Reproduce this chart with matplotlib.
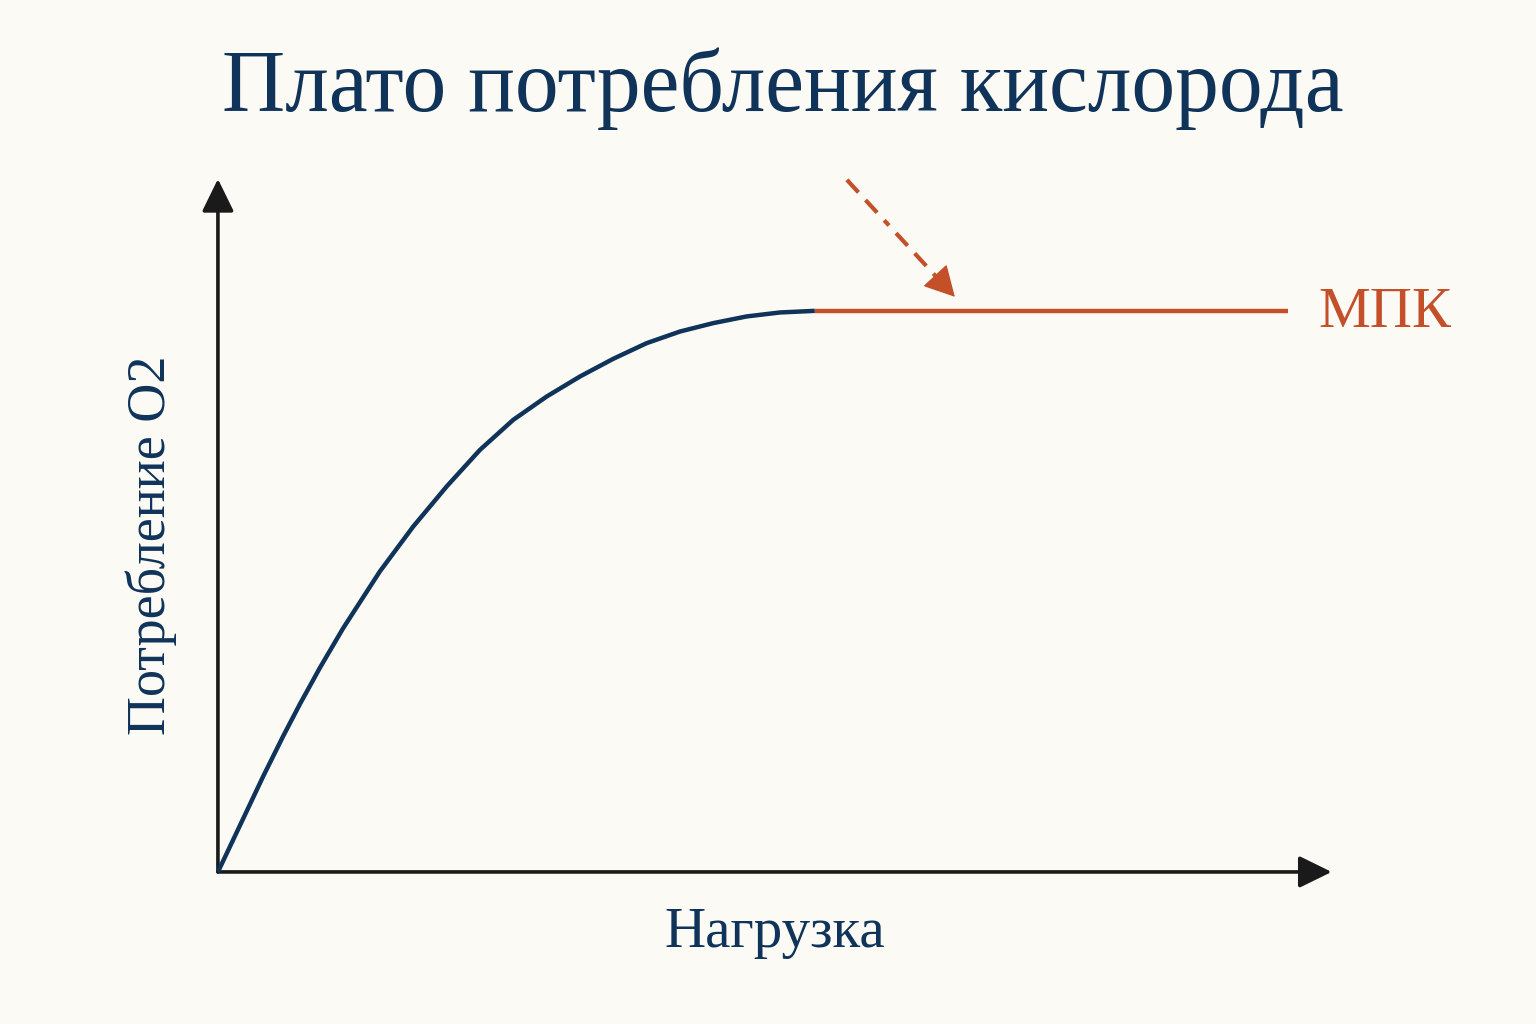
import matplotlib
matplotlib.use('Agg')
import matplotlib.pyplot as plt

# данные кривой (нагрузка, потребление O2)
load = [0, 2.36, 4.23, 6.10, 7.66, 9.53, 11.71, 15.14, 18.25, 21.37, 24.49,
        27.6, 30.72, 33.83, 36.94, 40.07, 43.18, 46.29, 49.41, 52.52, 55.79]
vo2 = [0, 9.50, 17.04, 24.21, 29.91, 36.38, 43.46, 53.57, 61.55, 68.68, 75.22,
       80.57, 84.72, 88.29, 91.44, 94.24, 96.31, 97.81, 99.0, 99.71, 100]
plateau_load = [55.79, 100]
plateau_vo2 = [100, 100]

title = 'Плато потребления кислорода'
xlabel = 'Нагрузка'
ylabel = 'Потребление O2'
mpk_label = 'МПК'

bg = '#fcfaf5'
navy = '#0f3359'
orange = '#c4502a'
axis_col = '#1a1a1a'

plt.rcParams['font.family'] = ['Liberation Serif', 'DejaVu Serif']

W, H = 1536, 1024
fig = plt.figure(figsize=(W / 100, H / 100), dpi=100, facecolor=bg)
ax = fig.add_axes([0, 0, 1, 1])
ax.set_facecolor(bg)
ax.set_xlim(-20.37, 123.2)
ax.set_ylim(-27.1, 155.4)
ax.axis('off')

# оси со стрелками
axis_arrow = dict(arrowstyle='-|>,head_length=2.0,head_width=0.98',
                  color=axis_col, lw=2.6, shrinkA=0, shrinkB=0)
ax.annotate('', xy=(104.1, 0), xytext=(0, 0), arrowprops=axis_arrow)
ax.annotate('', xy=(0, 123.5), xytext=(0, 0), arrowprops=axis_arrow)

# кривая и плато
ax.plot(load, vo2, color=navy, lw=3.2, solid_capstyle='butt',
        solid_joinstyle='round', zorder=3)
ax.plot(plateau_load, plateau_vo2, color=orange, lw=3.2,
        solid_capstyle='butt', zorder=3)

# пунктирная стрелка к плато: штрих-пунктир + сплошной наконечник
ax.plot([58.79, 67.15], [123.35, 106.06], color=orange, lw=3.0,
        linestyle=(0, (4.1, 2.5, 4.1, 2.5, 1.7, 2.5)), dash_capstyle='butt')
ax.annotate('', xy=(68.88, 102.5), xytext=(67.15, 106.06),
            arrowprops=dict(arrowstyle='-|>,head_length=1.95,head_width=1.05',
                            color=orange, lw=1.0, shrinkA=0, shrinkB=0))

fig.text(783 / W, 1 - 111 / H, title, ha='center', va='baseline',
         fontsize=63, color=navy)
fig.text(775 / W, 1 - 947 / H, xlabel, ha='center', va='baseline',
         fontsize=41, color=navy)
fig.text(165 / W, 1 - 545 / H, ylabel, ha='center', va='baseline',
         rotation=90, rotation_mode='anchor', fontsize=39, color=navy)
fig.text(1318 / W, 1 - 327 / H, mpk_label, ha='left', va='baseline',
         fontsize=42, color=orange)

fig.savefig('out.png', dpi=100, facecolor=bg)
